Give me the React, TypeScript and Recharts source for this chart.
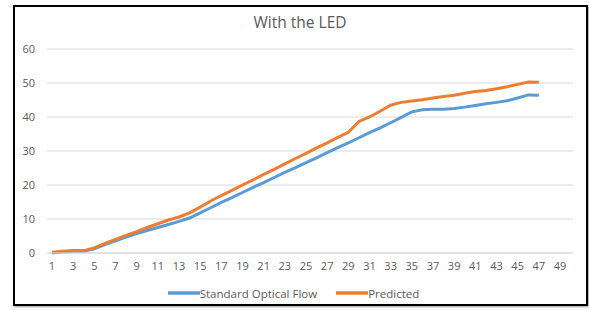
import React from "react";
import { LineChart, Line, XAxis, YAxis, CartesianGrid, Legend } from "recharts";

const categories = [
  "1","2","3","4","5","6","7","8","9","10","11","12","13","14","15","16","17","18","19","20",
  "21","22","23","24","25","26","27","28","29","30","31","32","33","34","35","36","37","38","39","40",
  "41","42","43","44","45","46","47","48","49",
];

const standardOpticalFlow: (number | null)[] = [
  0, 0.3, 0.5, 0.5, 1.2, 2.5, 3.6, 4.7, 5.7, 6.6, 7.5, 8.4, 9.3, 10.3, 11.8, 13.3, 14.9, 16.3, 17.8, 19.3,
  20.7, 22.2, 23.7, 25.1, 26.6, 28, 29.5, 31, 32.4, 33.9, 35.4, 36.8, 38.3, 39.9, 41.5, 42.1, 42.3, 42.3, 42.5, 42.9,
  43.4, 43.9, 44.3, 44.8, 45.6, 46.5, 46.4, null, null,
];

const predicted: (number | null)[] = [
  0.2, 0.5, 0.7, 0.7, 1.5, 2.8, 4, 5.2, 6.3, 7.5, 8.6, 9.7, 10.6, 11.8, 13.5, 15.3, 16.9, 18.4, 20, 21.5,
  23.1, 24.6, 26.2, 27.8, 29.3, 30.9, 32.4, 34, 35.5, 38.7, 40, 41.7, 43.5, 44.3, 44.7, 45.1, 45.6, 46, 46.4, 47,
  47.5, 47.8, 48.3, 48.9, 49.6, 50.3, 50.2, null, null,
];

const yTicks = [0, 10, 20, 30, 40, 50, 60];
const legendOrder = ["standard", "predicted"];

const data = categories.map((c, i) => ({
  x: c,
  standard: standardOpticalFlow[i],
  predicted: predicted[i],
}));

const FONT = "'Open Sans', 'Noto Sans', sans-serif";
const TEXT = "#595959";

const LegendContent = (props: any) => {
  const items = [...(props.payload || [])].sort(
    (a: any, b: any) => legendOrder.indexOf(a.dataKey) - legendOrder.indexOf(b.dataKey)
  );
  return (
    <div
      style={{
        display: "flex",
        justifyContent: "center",
        gap: 19,
        paddingLeft: 14,
        fontFamily: FONT,
        fontSize: 11.5,
        color: TEXT,
        height: 20,
        alignItems: "center",
      }}
    >
      {items.map((it: any) => (
        <div key={it.value} style={{ display: "flex", alignItems: "center" }}>
          <svg width={32} height={6}>
            <line x1={0} y1={3} x2={32} y2={3} stroke={it.color} strokeWidth={3.5} />
          </svg>
          <span>{it.value}</span>
        </div>
      ))}
    </div>
  );
};

export default function App() {
  return (
    <div style={{ position: "absolute", left: 0, top: 0, width: 589, height: 311, background: "#fff" }}>
      <div
        style={{
          position: "absolute",
          left: 13,
          top: 5,
          width: 575,
          height: 301,
          boxSizing: "border-box",
          border: "2px solid #000",
          boxShadow: "1px 1px 2px rgba(0,0,0,0.4)",
        }}
      />
      <div
        style={{
          position: "absolute",
          left: 0,
          top: 11,
          width: 600,
          textAlign: "center",
          fontFamily: FONT,
          fontSize: 15.5,
          color: TEXT,
        }}
      >
        With the LED
      </div>
      <div style={{ position: "absolute", left: 0, top: 0 }}>
        <LineChart width={589} height={311} data={data} margin={{ top: 49, right: 16, left: 0, bottom: 14 }}>
          <CartesianGrid horizontal vertical={false} stroke="#d9d9d9" />
          <XAxis
            dataKey="x"
            interval={1}
            padding={{ left: 5, right: 13 }}
            tickLine={false}
            axisLine={{ stroke: "#d9d9d9" }}
            tickSize={0}
            tickMargin={9}
            height={24}
            tick={{ fill: TEXT, fontSize: 11, fontFamily: FONT }}
          />
          <YAxis
            domain={[0, 60]}
            ticks={yTicks}
            width={47}
            axisLine={false}
            tickLine={false}
            tickSize={0}
            tickMargin={12}
            tick={{ fill: TEXT, fontSize: 11, fontFamily: FONT }}
          />
          <Legend
            verticalAlign="bottom"
            height={20}
            wrapperStyle={{ bottom: 8 }}
            content={<LegendContent />}
          />
          <Line
            type="linear"
            dataKey="standard"
            name="Standard Optical Flow"
            stroke="#5B9BD5"
            strokeWidth={3}
            dot={false}
            isAnimationActive={false}
          />
          <Line
            type="linear"
            dataKey="predicted"
            name="Predicted"
            stroke="#ED7D31"
            strokeWidth={3}
            dot={false}
            isAnimationActive={false}
          />
        </LineChart>
      </div>
    </div>
  );
}
